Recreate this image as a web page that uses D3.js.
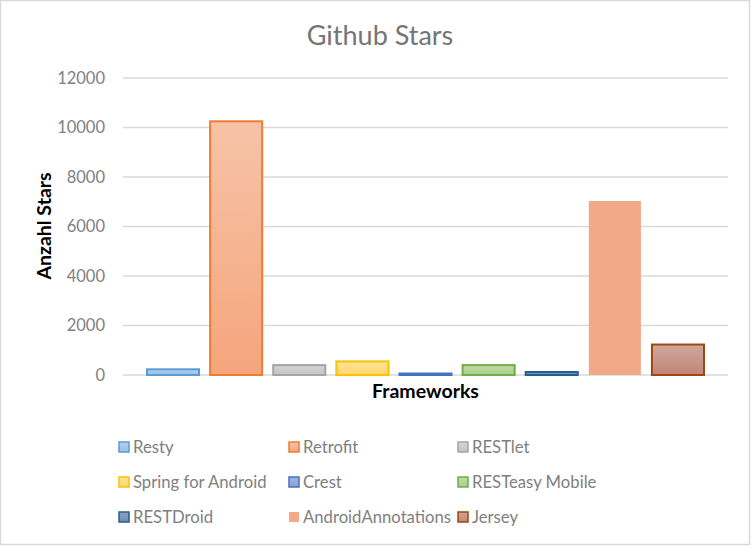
<!DOCTYPE html>
<html><head><meta charset="utf-8">
<script src="https://cdn.jsdelivr.net/npm/d3@7"></script>
<style>body{margin:0;background:#fff}</style>
</head><body>
<svg id="c" width="751" height="546"></svg>
<script>
const categories = ["Resty","Retrofit","RESTlet","Spring for Android","Crest","RESTeasy Mobile","RESTDroid","AndroidAnnotations","Jersey"];
const stars = [230, 10250, 400, 550, 60, 400, 120, 7030, 1230];
const yTicks = [0,2000,4000,6000,8000,10000,12000];
const title = "Github Stars";
const yTitle = "Anzahl Stars";
const xTitle = "Frameworks";

const strokeColors = ["#5B9BD5","#ED7D31","#A5A5A5","#FFC000","#4472C4","#70AD47","#255E91","none","#9E480E"];
const fillTop = ["#B4CFEC","#F6C3A8","#D4D4D4","#FFE49A","#9FB4E0","#BFDBAA","#8AA3C0","#F1A988","#CFA79E"];
const fillBot = ["#9DBFE6","#F5A57C","#C4C4C4","#FFD66E","#8AA3D6","#A6CE89","#6F8DB3","#F1A988","#C08676"];

const svg = d3.select("#c");
const font = "Lato, 'Open Sans', sans-serif";

svg.append("rect").attr("x",0.5).attr("y",0.5).attr("width",749).attr("height",544)
  .attr("fill","#fff").attr("stroke","#D9D9D9").attr("stroke-width",1.5);

const defs = svg.append("defs");
categories.forEach((c,i)=>{
  const g = defs.append("linearGradient").attr("id","g"+i).attr("x1",0).attr("y1",0).attr("x2",0).attr("y2",1);
  g.append("stop").attr("offset","0%").attr("stop-color",fillTop[i]);
  g.append("stop").attr("offset","100%").attr("stop-color",fillBot[i]);
});

const x = d3.scaleBand().domain(categories).range([123,728]).paddingInner(0.175).paddingOuter(0.38);
const y = d3.scaleLinear().domain([0,12000]).range([375,78]);

// gridlines
svg.append("g").selectAll("line").data(yTicks).join("line")
  .attr("x1",123).attr("x2",728).attr("y1",d=>y(d)).attr("y2",d=>y(d))
  .attr("stroke","#D9D9D9").attr("stroke-width",1.3);

// y axis labels
const yAxis = d3.axisLeft(y).tickValues(yTicks).tickSize(0).tickPadding(0).tickFormat(d3.format("d"));
const ya = svg.append("g").attr("transform","translate(105,0)").call(yAxis);
ya.select(".domain").remove();
ya.selectAll("text").attr("font-family",font).attr("font-size",16.5).attr("fill","#7F7F7F");

// bars
svg.append("g").selectAll("rect").data(stars).join("rect")
  .attr("x",(d,i)=>x(categories[i]))
  .attr("width",x.bandwidth())
  .attr("y",d=>y(d))
  .attr("height",d=>y(0)-y(d))
  .attr("fill",(d,i)=>"url(#g"+i+")")
  .attr("stroke",(d,i)=>strokeColors[i])
  .attr("stroke-width",2);

// titles
svg.append("text").attr("x",380).attr("y",45).attr("text-anchor","middle")
  .attr("font-family",font).attr("font-size",27).attr("fill","#757575").text(title);
svg.append("text").attr("transform","translate(51,226) rotate(-90)").attr("text-anchor","middle")
  .attr("font-family",font).attr("font-weight","bold").attr("font-size",19.5).attr("fill","#000").text(yTitle);
svg.append("text").attr("x",425.5).attr("y",398).attr("text-anchor","middle")
  .attr("font-family",font).attr("font-weight","bold").attr("font-size",19.5).attr("fill","#000").text(xTitle);

// legend
const colX = [118,288,457];
const rowY = [447,482,517];
const lg = svg.append("g").selectAll("g").data(categories).join("g")
  .attr("transform",(d,i)=>`translate(${colX[i%3]},${rowY[Math.floor(i/3)]})`);
lg.append("rect").attr("x",1).attr("y",-5).attr("width",10).attr("height",10)
  .attr("fill",(d,i)=>"url(#g"+i+")")
  .attr("stroke",(d,i)=>strokeColors[i]).attr("stroke-width",1.5);
lg.append("text").attr("x",15).attr("y",6)
  .attr("font-family",font).attr("font-size",16.7).attr("fill","#7F7F7F").text(d=>d);
</script>
</body></html>
